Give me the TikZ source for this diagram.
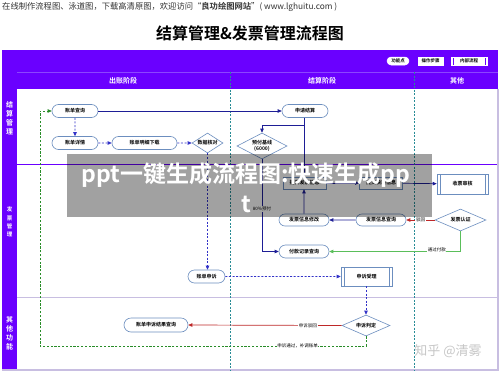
\documentclass[tikz,border=0pt]{standalone}
\usepackage{fontspec}
\setmainfont{Noto Sans CJK SC}[BoldFont={Noto Sans CJK SC Bold}]
\usetikzlibrary{shapes.geometric,shapes.misc,arrows.meta,calc}
\definecolor{hdr}{RGB}{106,0,255}
\definecolor{hdrl}{RGB}{140,70,255}
\definecolor{nodeb}{RGB}{108,142,191}
\definecolor{dblue}{RGB}{30,30,150}
\definecolor{lblue}{RGB}{50,50,200}
\definecolor{tealc}{RGB}{40,140,150}
\definecolor{dgreen}{RGB}{40,140,40}
\definecolor{lgreen}{RGB}{90,190,90}
\definecolor{dred}{RGB}{190,40,40}
\definecolor{lanel}{RGB}{200,190,225}
\tikzset{
 fn/.style={rounded rectangle, draw=nodeb, fill=white, line width=0.6pt, minimum height=13pt, inner sep=0pt, font=\fontsize{5}{6}\selectfont\bfseries},
 opbox/.style={rectangle, draw=nodeb, fill=white, line width=0.6pt, minimum height=12pt, inner sep=0pt, font=\fontsize{5}{6}\selectfont\bfseries},
 ipbox/.style={opbox, path picture={\draw[nodeb,line width=0.6pt] ([xshift=3pt]path picture bounding box.north west) -- ([xshift=3pt]path picture bounding box.south west) ([xshift=-3pt]path picture bounding box.north east) -- ([xshift=-3pt]path picture bounding box.south east);}},
 dia/.style={diamond, aspect=2, draw=nodeb, fill=white, line width=0.6pt, inner sep=0pt, font=\fontsize{5}{6}\selectfont\bfseries, align=center},
 lbl/.style={fill=white, inner sep=0.6pt, font=\fontsize{4.5}{5}\selectfont},
 tip/.style={-{Triangle[length=4pt,width=3.5pt]}},
 solidb/.style={draw=dblue, line width=0.7pt},
 dashb/.style={draw=lblue, line width=0.8pt, dash pattern=on 2pt off 1.6pt},
 redl/.style={draw=dred, line width=0.7pt},
 greend/.style={draw=dgreen, line width=0.7pt, dash pattern=on 2.2pt off 1.6pt},
 greens/.style={draw=lgreen, line width=0.8pt},
 lanetxt/.style={text=white, font=\fontsize{7}{9}\selectfont\bfseries, align=center},
 phase/.style={text=white, font=\fontsize{7}{8}\selectfont\bfseries},
 leg/.style={fill=white, draw=white, line width=0.5pt, minimum height=8pt, inner sep=0pt, font=\fontsize{4.5}{5}\selectfont\bfseries},
 divl/.style={draw=tealc, line width=0.7pt, dash pattern=on 2pt off 1.5pt}
}
\begin{document}
\begin{tikzpicture}[x=1pt,y=-1pt]
\useasboundingbox (0,0) rectangle (500,372);
\fill[white] (0,0) rectangle (500,372);
% top text and title
\node[anchor=west, text=black!80, font=\fontsize{8.3}{9}\selectfont, inner sep=0] (topt) at (2,7) {在线制作流程图、泳道图，下载高清原图，欢迎访问“\textbf{良功绘图网站}”( www.lghuitu.com )};
\node[font=\fontsize{16}{18}\selectfont\bfseries, inner sep=0] (title) at (250,33) {结算管理\&发票管理流程图};
% frame
\fill[hdr] (2,50) rectangle (498,89);
\fill[hdr] (2,89) rectangle (17,370);
\draw[hdrl, line width=0.5pt] (17,72) -- (498,72);
\draw[hdr, line width=0.5pt] (17,164) -- (498,164);
\draw[lanel, line width=1.2pt] (17,297.7) -- (498,297.7);
\draw[lanel, line width=1.2pt] (2,370) -- (498,370) -- (498,89);
\draw[divl] (230.5,72) -- (230.5,370);
\draw[divl] (414,72) -- (414,370);
% header texts
\node[phase] (p1) at (123,81) {出账阶段};
\node[phase] (p2) at (322,81) {结算阶段};
\node[phase] (p3) at (457,81) {其他};
\node[lanetxt] (l1) at (9.5,118) {结\\算\\管\\理};
\node[lanetxt, font=\fontsize{5.5}{8.3}\selectfont\bfseries] (l2) at (9.5,222) {发\\票\\管\\理};
\node[lanetxt] (l3) at (9.5,333) {其\\他\\功\\能};
% legend
\node[leg, rounded rectangle, minimum width=22pt] (lg1) at (398,61) {功能点};
\node[leg, rectangle, minimum width=25pt] (lg2) at (430.5,61) {操作步骤};
\node[leg, rectangle, minimum width=36pt, path picture={\draw[hdr,line width=0.6pt] ([xshift=2pt]path picture bounding box.north west) -- ([xshift=2pt]path picture bounding box.south west) ([xshift=-2pt]path picture bounding box.north east) -- ([xshift=-2pt]path picture bounding box.south east);}] (lg3) at (469,61) {内部流程};
% nodes
\node[fn, minimum width=46pt] (q) at (75,111) {账单查询};
\node[fn, minimum width=46pt] (xq) at (75,143) {账单详情};
\node[fn, minimum width=65pt] (mx) at (144.5,143) {账单明细下载};
\node[dia, minimum width=31pt, minimum height=20pt] (hd) at (207.5,143) {数据核对};
\node[fn, minimum width=46pt] (js) at (305,111) {申请结算};
\node[dia, minimum width=50pt, minimum height=26pt, font=\fontsize{5}{6.5}\selectfont\bfseries] (yf) at (262,146) {预付基线\\(6000)};
\node[opbox, minimum width=43pt] (tj) at (304.5,183) {提交发票信息};
\node[opbox, minimum width=43pt] (tk) at (381,183) {提交快递信息};
\node[ipbox, minimum width=51pt, minimum height=20pt] (sp) at (462.5,184) {收票审核};
\node[dia, minimum width=51pt, minimum height=22pt] (rz) at (460.5,220) {发票认证};
\node[fn, minimum width=50pt, minimum height=12pt] (xg) at (304,220) {发票信息修改};
\node[fn, minimum width=50pt, minimum height=12pt] (cx) at (381,220) {发票信息查询};
\node[fn, minimum width=50pt] (fk) at (304,251.5) {付款记录查询};
\node[fn, minimum width=37pt] (ss) at (206.5,276.5) {账单申诉};
\node[ipbox, minimum width=51pt, minimum height=19pt] (sl) at (366.5,276.5) {申诉受理};
\node[dia, minimum width=48pt, minimum height=21pt] (pd) at (366,325.5) {申诉判定};
\node[fn, minimum width=64pt, minimum height=14pt] (jg) at (156,325) {账单申诉结果查询};
% connectors
\coordinate (jc) at (304,125);
\coordinate (g1) at (40,346);
\coordinate (g2) at (40,111);
\draw[solidb, tip] (q.east) -- (js.west);
\draw[dashb, tip] (q) -- (xq);
\draw[dashb, tip] (xq) -- (mx);
\draw[dashb, tip] (mx) -- (hd);
\draw[dashb, tip] (hd.south) -- (hd.south |- ss.north);
\draw[dashb, tip] (ss) -- (sl);
\draw[dashb, tip] (sl.south -| pd.north) -- (pd.north);
\draw[redl, tip] (pd.west) -- node[lbl, pos=0.22] {申诉驳回} (jg.east);
\draw[greend, tip] (pd.south) -- (pd.south |- g1) -- node[lbl, pos=0.21] {申诉通过，补调账单} (g1) -- (g2) -- (q.west);
\draw[solidb] (js.south -| jc) -- (jc |- tj.north);
\draw[solidb, tip] (jc) -| (yf.north);
\draw[solidb, tip] (yf.south) |- node[lbl, pos=0.27] {80\%预付} (fk.west);
\draw[solidb, tip] (tj) -- (tk);
\draw[solidb, tip] (tk) -- (sp);
\draw[redl, tip] (rz.west) -- node[lbl] {驳回} (cx.east);
\draw[solidb, tip] (cx) -- (xg);
\draw[solidb, tip] (xg) -- (xg.north |- tj.south);
\draw[greens, tip] (rz.south) |- node[lbl, pos=0.59, yshift=2pt] {通过付款} (fk.east);
% overlay banner
\fill[black, fill opacity=0.37] (67,154) rectangle (432,217);
\node[text=white, font=\fontsize{23}{30}\selectfont\bfseries, align=center] (ban) at (246,188) {ppt一键生成流程图:快速生成pp\\t};
% watermark
\node[text=black!22, font=\fontsize{13}{14}\selectfont] (wm) at (448,351) {知乎 @清雾};
\end{tikzpicture}
\end{document}
